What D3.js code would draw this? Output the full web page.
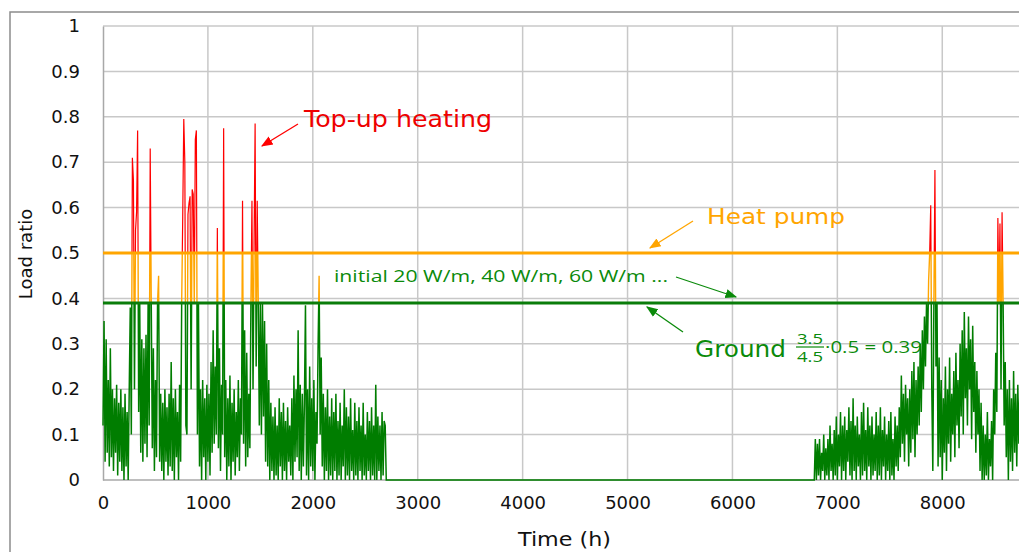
<!DOCTYPE html>
<html>
<head>
<meta charset="utf-8">
<script src="https://cdn.jsdelivr.net/npm/d3@7"></script>
<style>
  body { margin: 0; background: #fff; }
  text { font-family: "DejaVu Sans", Verdana, sans-serif; }
</style>
</head>
<body>
<script>
var width = 1019;
var height = 552;

// load ratio, one value every 10 h
var stepH = 10;
var earlyStart = 0;
var earlyLoad = [
  0.12,0.35,0.04,0.31,0.06,0.22,0.03,0.29,0.05,0.2,0.02,0.18,0.06,0.21,0.01,0.17,0.04,0.2,0.02,0.16,
  0.0,0.19,0.03,0.15,0.0,0.2,0.38,0.1,0.71,0.66,0.2,0.55,0.59,0.77,0.15,0.39,0.06,0.31,0.04,0.29,
  0.08,0.32,0.05,0.39,0.12,0.73,0.39,0.07,0.29,0.02,0.22,0.05,0.39,0.45,0.04,0.19,0.02,0.17,0.0,0.2,
  0.04,0.16,0.01,0.19,0.03,0.26,0.02,0.18,0.0,0.2,0.05,0.15,0.0,0.21,0.04,0.39,0.58,0.795,0.7,0.12,
  0.1,0.585,0.61,0.625,0.2,0.64,0.63,0.39,0.75,0.77,0.1,0.39,0.03,0.2,0.0,0.22,0.05,0.18,0.0,0.21,
  0.04,0.19,0.01,0.26,0.06,0.33,0.08,0.25,0.1,0.555,0.07,0.29,0.02,0.21,0.1,0.775,0.05,0.22,0.0,0.18,
  0.03,0.23,0.0,0.17,0.04,0.2,0.01,0.15,0.05,0.22,0.02,0.18,0.1,0.615,0.08,0.33,0.03,0.28,0.05,0.19,
  0.07,0.39,0.615,0.2,0.52,0.785,0.25,0.615,0.39,0.12,0.39,0.1,0.39,0.14,0.35,0.04,0.3,0.03,0.22,0.0,
  0.17,0.02,0.14,0.0,0.16,0.01,0.12,0.0,0.18,0.03,0.15,0.0,0.17,0.02,0.13,0.0,0.16,0.04,0.12,0.01,
  0.18,0.0,0.23,0.04,0.2,0.05,0.33,0.02,0.21,0.0,0.19,0.03,0.17,0.385,0.01,0.2,0.0,0.25,0.03,0.18,
  0.02,0.22,0.0,0.15,0.08,0.29,0.45,0.1,0.27,0.03,0.19,0.0,0.16,0.02,0.2,0.0,0.14,0.01,0.18,0.0,
  0.15,0.02,0.19,0.0,0.13,0.01,0.17,0.0,0.12,0.03,0.2,0.0,0.16,0.01,0.14,0.0,0.18,0.02,0.11,0.0,
  0.17,0.01,0.13,0.0,0.16,0.02,0.12,0.0,0.17,0.01,0.1,0.0,0.15,0.02,0.13,0.0,0.16,0.01,0.12,0.0,
  0.21,0.0,0.14,0.02,0.12,0.0,0.15,0.01,0.13,0.12,0.0,0.0,0.0
];
var lateStart = 6780;
var lateLoad = [
  0.0,0.09,0.0,0.08,0.01,0.09,0.0,0.06,0.02,0.1,0.0,0.07,0.01,0.09,0.0,0.12,0.02,0.08,0.0,0.11,
  0.01,0.14,0.0,0.1,0.03,0.15,0.0,0.12,0.02,0.14,0.0,0.11,0.04,0.16,0.01,0.13,0.0,0.18,0.02,0.12,
  0.0,0.14,0.03,0.1,0.0,0.15,0.01,0.17,0.02,0.11,0.0,0.16,0.03,0.12,0.0,0.14,0.01,0.1,0.02,0.15,
  0.0,0.12,0.01,0.16,0.0,0.11,0.03,0.14,0.0,0.1,0.02,0.13,0.0,0.15,0.01,0.09,0.0,0.14,0.03,0.12,
  0.02,0.16,0.05,0.23,0.08,0.19,0.04,0.21,0.1,0.18,0.03,0.2,0.06,0.24,0.09,0.26,0.05,0.22,0.1,0.25,
  0.12,0.3,0.15,0.33,0.2,0.36,0.25,0.39,0.3,0.44,0.5,0.605,0.2,0.02,0.39,0.683,0.25,0.39,0.03,0.27,
  0.05,0.22,0.0,0.18,0.06,0.25,0.02,0.2,0.08,0.27,0.04,0.19,0.1,0.24,0.05,0.28,0.12,0.22,0.07,0.3,
  0.14,0.33,0.1,0.37,0.18,0.29,0.12,0.36,0.2,0.31,0.09,0.34,0.15,0.26,0.06,0.24,0.1,0.2,0.02,0.17,
  0.0,0.12,0.0,0.1,0.01,0.15,0.0,0.09,0.03,0.13,0.0,0.2,0.1,0.28,0.15,0.577,0.39,0.565,0.2,0.59,
  0.39,0.12,0.26,0.05,0.2,0.0,0.22,0.04,0.18,0.02,0.24,0.06,0.19,0.03,0.21,0.08,0.2,0.1,0.19
];

var xTicks = [0, 1000, 2000, 3000, 4000, 5000, 6000, 7000, 8000];
var yTicks = [0, 0.1, 0.2, 0.3, 0.4, 0.5, 0.6, 0.7, 0.8, 0.9, 1];
var yTickLabels = ["0", "0.1", "0.2", "0.3", "0.4", "0.5", "0.6", "0.7", "0.8", "0.9", "1"];
var heatPumpLimit = 0.5;
var groundLimit = 0.39;

var points = [];
earlyLoad.forEach(function (v, i) { points.push({ h: earlyStart + i * stepH, v: v }); });
lateLoad.forEach(function (v, i) { points.push({ h: lateStart + i * stepH, v: v }); });

var svg = d3.select("body")
            .append("svg")
            .attr("width", width)
            .attr("height", height);

// outer chart frame
svg.append("rect")
   .attr("x", 10).attr("y", 12)
   .attr("width", 1030).attr("height", 560)
   .attr("fill", "none")
   .attr("stroke", "#8c8c8c")
   .attr("stroke-width", 1.5);

var x = d3.scaleLinear().domain([0, 8760]).range([103, 1022]);
var y = d3.scaleLinear().domain([0, 1]).range([480, 26]);

// grid
svg.append("g").selectAll("line")
   .data(yTicks.slice(1))
   .enter().append("line")
   .attr("x1", x(0)).attr("x2", width)
   .attr("y1", function (d) { return y(d); })
   .attr("y2", function (d) { return y(d); })
   .attr("stroke", "#c8c8c8").attr("stroke-width", 1.5);

svg.append("g").selectAll("line")
   .data(xTicks.slice(1))
   .enter().append("line")
   .attr("x1", function (d) { return x(d); })
   .attr("x2", function (d) { return x(d); })
   .attr("y1", y(1)).attr("y2", y(0))
   .attr("stroke", "#c8c8c8").attr("stroke-width", 1.5);

// axes
var xAxis = svg.append("g")
   .attr("transform", "translate(0," + y(0) + ")")
   .call(d3.axisBottom(x).tickValues(xTicks).tickFormat(d3.format("d")).tickSize(0).tickPadding(16));
xAxis.select(".domain").attr("stroke", "#a8a8a8").attr("stroke-width", 1.5).attr("d", "M" + x(0) + ",0H" + width);
xAxis.selectAll("text").attr("font-size", 18).attr("fill", "#111").style("font-family", "DejaVu Sans");

var yAxis = svg.append("g")
   .attr("transform", "translate(" + x(0) + ",0)")
   .call(d3.axisLeft(y).tickValues(yTicks).tickFormat(function (d, i) { return yTickLabels[i]; }).tickSize(0).tickPadding(23));
yAxis.select(".domain").attr("stroke", "#a8a8a8").attr("stroke-width", 1.5);
yAxis.selectAll("text").attr("font-size", 18).attr("fill", "#111").style("font-family", "DejaVu Sans");

// clip bands for the three colours
var defs = svg.append("defs");
defs.append("clipPath").attr("id", "clipTop").append("rect")
    .attr("x", 0).attr("y", 0).attr("width", width).attr("height", y(heatPumpLimit));
defs.append("clipPath").attr("id", "clipMid").append("rect")
    .attr("x", 0).attr("y", y(heatPumpLimit)).attr("width", width).attr("height", y(groundLimit) - y(heatPumpLimit));
defs.append("clipPath").attr("id", "clipLow").append("rect")
    .attr("x", 0).attr("y", y(groundLimit)).attr("width", width).attr("height", y(0) - y(groundLimit) + 2);

var line = d3.line()
    .x(function (d) { return x(d.h); })
    .y(function (d) { return y(d.v); });

[["clipTop", "#ff0000", 1.2], ["clipMid", "#ffa500", 1.4], ["clipLow", "#007d00", 1.5]].forEach(function (c) {
    svg.append("path")
       .datum(points)
       .attr("d", line)
       .attr("fill", "none")
       .attr("stroke", c[1])
       .attr("stroke-width", c[2])
       .attr("clip-path", "url(#" + c[0] + ")");
});

// limit lines
svg.append("line")
   .attr("x1", x(0)).attr("x2", width)
   .attr("y1", y(heatPumpLimit)).attr("y2", y(heatPumpLimit))
   .attr("stroke", "#ffa500").attr("stroke-width", 3);
svg.append("line")
   .attr("x1", x(0)).attr("x2", width)
   .attr("y1", y(groundLimit)).attr("y2", y(groundLimit))
   .attr("stroke", "#0a7d0a").attr("stroke-width", 3);

// axis titles
svg.append("text")
   .attr("x", 518).attr("y", 546)
   .attr("font-size", 19).attr("fill", "#111")
   .attr("textLength", 93).attr("lengthAdjust", "spacingAndGlyphs")
   .text("Time (h)");
svg.append("text")
   .attr("transform", "translate(32,254) rotate(-90)")
   .attr("text-anchor", "middle")
   .attr("font-size", 18).attr("fill", "#111")
   .text("Load ratio");

// annotations
function arrow(id, color) {
    defs.append("marker")
        .attr("id", id)
        .attr("viewBox", "0 0 10 10")
        .attr("refX", 9).attr("refY", 5)
        .attr("markerWidth", 9).attr("markerHeight", 9)
        .attr("orient", "auto")
        .append("path").attr("d", "M0,1L10,5L0,9z").attr("fill", color);
}
arrow("arRed", "#ff0000");
arrow("arOrange", "#ffa500");
arrow("arGreen", "#0a8a0a");

function label(txt, x0, y0, size, len, color, family) {
    return svg.append("text")
       .attr("x", x0).attr("y", y0)
       .attr("font-size", size).attr("fill", color)
       .attr("textLength", len).attr("lengthAdjust", "spacingAndGlyphs")
       .style("font-family", family || "DejaVu Sans")
       .text(txt);
}

label("Top-up heating", 304, 127, 23, 188, "#ee0000");
svg.append("line")
   .attr("x1", 298).attr("y1", 124).attr("x2", 262).attr("y2", 146)
   .attr("stroke", "#ff0000").attr("stroke-width", 1.3)
   .attr("marker-end", "url(#arRed)");

label("Heat pump", 707, 224, 22, 138, "#ffa500");
svg.append("line")
   .attr("x1", 693).attr("y1", 221).attr("x2", 650).attr("y2", 248)
   .attr("stroke", "#ffa500").attr("stroke-width", 1.3)
   .attr("marker-end", "url(#arOrange)");

label("initial 20 W/m, 40 W/m, 60 W/m ...", 334, 282, 16, 334, "#0a8a0a", "Open Sans");
svg.append("line")
   .attr("x1", 676).attr("y1", 277).attr("x2", 736).attr("y2", 297)
   .attr("stroke", "#0a8a0a").attr("stroke-width", 1.3)
   .attr("marker-end", "url(#arGreen)");

label("Ground", 695, 357, 23, 91, "#0a8a0a");
label("3.5", 797, 343.5, 15, 26, "#0a8a0a", "Open Sans");
svg.append("line")
   .attr("x1", 796).attr("x2", 824).attr("y1", 347).attr("y2", 347)
   .attr("stroke", "#0a8a0a").attr("stroke-width", 1.2);
label("4.5", 797, 361.5, 15, 26, "#0a8a0a", "Open Sans");
label("\u00b70.5 = 0.39", 825, 353, 16, 97, "#0a8a0a", "Open Sans");
svg.append("line")
   .attr("x1", 683).attr("y1", 332).attr("x2", 647).attr("y2", 307)
   .attr("stroke", "#0a8a0a").attr("stroke-width", 1.3)
   .attr("marker-end", "url(#arGreen)");
</script>
</body>
</html>
